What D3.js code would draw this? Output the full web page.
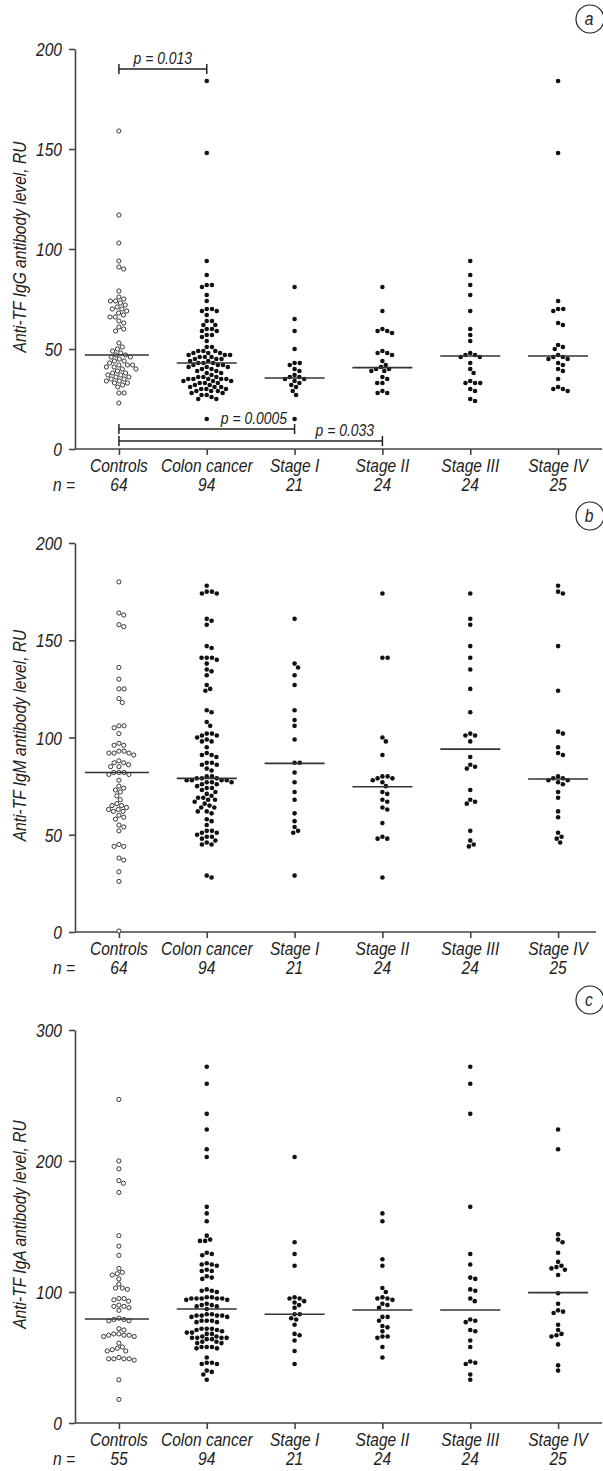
<!DOCTYPE html>
<html>
<head>
<meta charset="utf-8">
<script src="https://cdn.jsdelivr.net/npm/d3@7"></script>
<style>
  body { margin: 0; background: #fff; }
  svg text { font-family: "Liberation Sans", Arial, sans-serif; font-style: italic; fill: #222; }
</style>
</head>
<body>
<div id="chart"></div>
<script>
const groups = ["Controls", "Colon cancer", "Stage I", "Stage II", "Stage III", "Stage IV"];

// panel a - IgG
const iggN = [64, 94, 21, 24, 24, 25];
const iggMedians = [47, 43, 35.5, 40.7, 46.5, 46.5];
const iggControls = [159,117,103,94,91,90,79,76,75,74,74,73,72,71,70,70,69,68,67,66,66,64,63,61,60,59,53,51,50,49,48,47,46,46,45,44,43,42,42,42,41,41,40,40,39,38,38,37,36,36,35,35,34,34,33,33,32,31,28,28,23,44,47,37];
const iggColon = [184,148,94,87,82,82,81,77,74,70,70,69,69,67,64,64,62,62,60,60,59,59,57,57,56,54,51,51,49,49,49,48,48,48,47,47,47,46,46,46,45,45,45,44,43,43,43,42,42,42,41,41,41,40,40,39,39,38,38,37,36,36,35,35,35,35,35,34,34,34,33,33,33,32,32,31,31,31,30,30,30,29,29,29,28,28,27,27,26,25,25,15,36,44];
const iggStage1 = [81,65,59,50,43,43,42,40,39,37,36,36,35,35,34,33,32,31,29,27,15];
const iggStage2 = [81,69,60,59,59,58,49,48,48,47,44,42,41,40,40,39,39,36,35,33,33,29,28,28];
const iggStage3 = [94,87,82,77,69,60,57,54,48,47,47,46,46,43,40,38,34,33,33,33,30,29,25,24];
const iggStage4 = [184,148,74,70,70,69,63,62,52,51,50,47,46,46,45,45,43,42,40,39,35,31,30,30,29];

// panel b - IgM
const igmN = [64, 94, 21, 24, 24, 25];
const igmMedians = [82, 79, 86.7, 74.7, 94, 78.7];
const igmControls = [180,164,163,158,157,136,130,125,125,120,118,106,105,102,97,96,96,93,93,92,92,92,91,87,87,86,85,85,82,82,82,81,81,78,75,74,73,72,68,66,65,65,64,63,63,62,62,60,59,58,55,54,52,45,44,44,38,37,31,26,0.5,106,70,88];
const igmColon = [178,175,175,174,174,161,160,158,147,146,141,141,141,140,138,135,134,132,127,125,124,114,113,108,106,102,102,101,101,100,99,98,98,95,92,91,91,90,87,87,86,86,84,83,80,80,79,79,79,78,78,78,78,77,77,77,76,76,75,74,74,73,72,71,69,69,68,68,67,66,65,64,64,62,62,61,58,57,55,52,52,51,51,50,49,49,48,47,46,45,45,29,28,70];
const igmStage1 = [161,138,136,132,127,114,109,106,99,87,87,82,77,72,68,61,57,54,52,51,29];
const igmStage2 = [174,141,141,100,98,91,80,80,79,79,78,77,75,72,71,68,67,64,63,56,49,48,48,28];
const igmStage3 = [174,161,158,147,141,135,125,113,102,101,101,98,90,86,85,84,73,68,67,66,52,47,45,44];
const igmStage4 = [178,175,174,147,124,103,102,95,92,91,80,79,79,78,78,77,76,72,69,62,59,51,49,48,46];

// panel c - IgA
const igaN = [55, 94, 21, 24, 24, 25];
const igaMedians = [79.4, 87, 83, 86.3, 86.3, 99.5];
const igaControls = [247,200,194,185,183,176,143,135,128,118,115,114,113,110,106,103,103,102,95,95,94,93,90,89,89,88,86,80,79,79,78,78,72,71,68,68,67,67,67,66,66,61,58,57,56,55,55,50,49,49,49,49,48,33,18];
const igaColon = [272,259,236,224,209,203,165,160,154,143,140,139,139,130,129,128,122,121,121,120,117,116,116,112,111,110,102,101,101,100,96,96,95,95,95,95,95,94,94,91,90,90,89,89,87,83,83,82,82,82,82,81,81,78,78,78,77,77,72,72,72,71,71,70,69,69,68,68,66,66,65,65,65,65,64,64,62,62,61,61,58,58,58,57,57,50,46,46,45,45,40,39,37,33];
const igaStage1 = [203,138,129,120,96,95,95,93,92,90,88,83,83,80,79,75,68,67,63,55,45];
const igaStage2 = [160,154,125,120,103,100,96,95,95,94,91,90,88,81,81,78,74,73,70,66,66,65,58,50];
const igaStage3 = [272,259,236,165,129,121,111,110,102,101,95,93,79,78,77,71,70,63,58,47,46,45,37,33];
const igaStage4 = [224,209,144,140,138,130,123,120,119,118,117,113,99,91,86,85,84,75,71,68,67,66,60,44,40];

const iggTicks = [0, 50, 100, 150, 200];
const igmTicks = [0, 50, 100, 150, 200];
const igaTicks = [0, 100, 200, 300];

const panels = [
  {letter: "a", label: "Anti-TF IgG antibody level, RU", ticks: iggTicks, n: iggN, medians: iggMedians,
   data: [iggControls, iggColon, iggStage1, iggStage2, iggStage3, iggStage4], y0: 449, y1: 49, xEnd: 602, letterY: 19},
  {letter: "b", label: "Anti-TF IgM antibody level, RU", ticks: igmTicks, n: igmN, medians: igmMedians,
   data: [igmControls, igmColon, igmStage1, igmStage2, igmStage3, igmStage4], y0: 932, y1: 543, xEnd: 596, letterY: 516},
  {letter: "c", label: "Anti-TF IgA antibody level, RU", ticks: igaTicks, n: igaN, medians: igaMedians,
   data: [igaControls, igaColon, igaStage1, igaStage2, igaStage3, igaStage4], y0: 1423, y1: 1030, xEnd: 602, letterY: 1000}
];

const width = 603, height = 1471;
const axisColor = "#444";
const dotR = 2.3, gap = 5.2;
const squeeze = 0.82; // narrow italic look

const svg = d3.select("#chart").append("svg")
  .attr("width", width)
  .attr("height", height);

const x = d3.scalePoint().domain(groups).range([75, 602]).padding(0.5);

// condensed text: regular font squeezed sideways
function narrowText(sel, tx, ty, str, size, anchor, rot) {
  return sel.append("text")
    .attr("transform", "translate(" + tx + "," + ty + ")" + (rot ? " rotate(" + rot + ")" : "") + " scale(" + squeeze + ",1)")
    .attr("text-anchor", anchor || "start")
    .attr("font-size", size)
    .text(str);
}

// simple beeswarm: each dot goes as close to the centre line as it can
function swarm(values, y) {
  const placed = [];
  values.map(v => ({v: v, y: y(v)}))
    .sort((a, b) => a.y - b.y)
    .forEach(p => {
      const near = placed.filter(q => Math.abs(q.y - p.y) < gap);
      const reach = q => Math.sqrt(gap * gap - (q.y - p.y) * (q.y - p.y));
      let cands = [0];
      near.forEach(q => { cands.push(q.dx + reach(q), q.dx - reach(q)); });
      cands.sort((a, b) => Math.abs(a) - Math.abs(b));
      for (const c of cands) {
        if (near.every(q => Math.abs(q.dx - c) >= reach(q) - 1e-6)) { p.dx = c; break; }
      }
      placed.push(p);
    });
  return placed;
}

panels.forEach(panel => {
  const y = d3.scaleLinear()
    .domain([0, d3.max(panel.ticks)])
    .range([panel.y0, panel.y1]);
  const g = svg.append("g");

  // y axis
  const yAxis = g.append("g")
    .attr("transform", "translate(75,0)")
    .call(d3.axisLeft(y).tickValues(panel.ticks).tickSize(6).tickSizeOuter(0).tickFormat(""));
  panel.ticks.forEach(t => narrowText(g, 62, y(t) + 7, t, 19, "end"));

  // x axis
  const xAxis = g.append("g")
    .attr("transform", "translate(0," + panel.y0 + ")")
    .call(d3.axisBottom(x).tickSize(6).tickSizeOuter(0).tickFormat(""));
  xAxis.select(".domain").attr("d", "M75,0H" + panel.xEnd);

  [yAxis, xAxis].forEach(a => {
    a.selectAll("path,line").attr("stroke", axisColor).attr("stroke-width", 1.6);
  });

  groups.forEach(d => narrowText(g, x(d), panel.y0 + 23, d, 19, "middle"));
  narrowText(g, 75, panel.y0 + 42, "n =", 19, "end");
  panel.n.forEach((d, i) => narrowText(g, x(groups[i]), panel.y0 + 42, d, 19, "middle"));

  // y label
  narrowText(g, 26, (panel.y0 + panel.y1) / 2 - 2, panel.label, 19, "middle", -90);

  // circled letter
  g.append("circle")
    .attr("cx", 590).attr("cy", panel.letterY).attr("r", 14)
    .attr("fill", "none").attr("stroke", "#222").attr("stroke-width", 1.2);
  narrowText(g, 589, panel.letterY + 6, panel.letter, 19, "middle");

  // dots
  panel.data.forEach((vals, i) => {
    const cx = x(groups[i]);
    const pts = swarm(vals, y);
    g.append("g").selectAll("circle")
      .data(pts)
      .enter().append("circle")
      .attr("cx", d => cx + d.dx)
      .attr("cy", d => d.y)
      .attr("r", i === 0 ? 2.1 : dotR)
      .attr("fill", i === 0 ? "#fff" : "#111")
      .attr("stroke", i === 0 ? "#222" : "none")
      .attr("stroke-width", 0.9);

    g.append("line")
      .attr("x1", cx - (i === 0 ? 34 : 30))
      .attr("x2", cx + 30)
      .attr("y1", y(panel.medians[i]))
      .attr("y2", y(panel.medians[i]))
      .attr("stroke", "#333")
      .attr("stroke-width", 1.6);
  });

  if (panel.letter === "a") {
    const brackets = [
      {from: 0, to: 1, y: 69, text: "p = 0.013", tx: (x(groups[0]) + x(groups[1])) / 2, anchor: "middle", ty: 64},
      {from: 0, to: 2, y: 429, text: "p = 0.0005", tx: 287, anchor: "end", ty: 424},
      {from: 0, to: 3, y: 441, text: "p = 0.033", tx: 374, anchor: "end", ty: 436}
    ];
    brackets.forEach(b => {
      const x1 = x(groups[b.from]), x2 = x(groups[b.to]);
      g.append("path")
        .attr("d", d3.line()([[x1, b.y], [x2, b.y]]) + "M" + x1 + "," + (b.y - 5) + "V" + (b.y + 5) + "M" + x2 + "," + (b.y - 5) + "V" + (b.y + 5))
        .attr("stroke", "#222").attr("stroke-width", 1.5).attr("fill", "none");
      narrowText(g, b.tx, b.ty, b.text, 17, b.anchor);
    });
  }
});
</script>
</body>
</html>
